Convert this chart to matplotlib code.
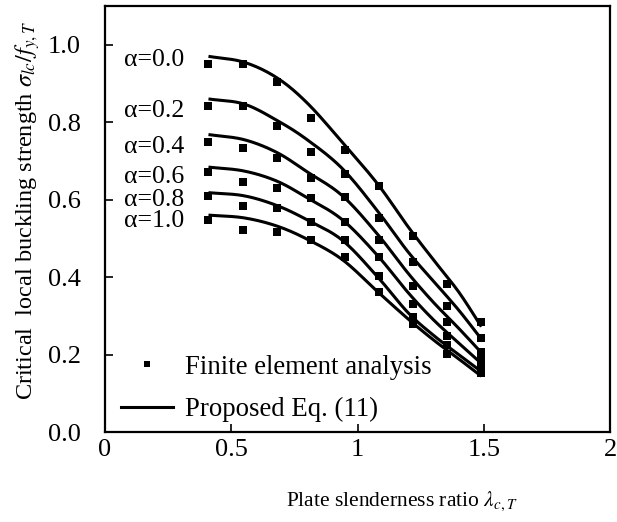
import numpy as np
import matplotlib
matplotlib.use("Agg")
import matplotlib.pyplot as plt
from matplotlib.lines import Line2D

plt.rcParams["font.family"] = ["Liberation Serif", "DejaVu Serif"]
plt.rcParams["mathtext.fontset"] = "stix"

# Finite element results: slenderness values and strength ratios per alpha
fe_lambda = [0.41, 0.545, 0.68, 0.815, 0.95, 1.085, 1.22, 1.355, 1.49]
fe_a00 = [0.950, 0.950, 0.905, 0.811, 0.727, 0.635, 0.506, 0.382, 0.284]
fe_a02 = [0.842, 0.842, 0.790, 0.722, 0.665, 0.552, 0.438, 0.326, 0.243]
fe_a04 = [0.748, 0.733, 0.708, 0.656, 0.607, 0.495, 0.378, 0.284, 0.206]
fe_a06 = [0.671, 0.645, 0.629, 0.603, 0.542, 0.451, 0.331, 0.249, 0.185]
fe_a08 = [0.609, 0.584, 0.578, 0.541, 0.495, 0.404, 0.296, 0.224, 0.168]
fe_a10 = [0.548, 0.521, 0.517, 0.495, 0.451, 0.362, 0.279, 0.202, 0.152]

# Proposed Eq. (11) evaluated at selected slenderness values
eq_lambda = [0.41, 0.55, 0.68, 0.80, 0.94, 1.08, 1.20, 1.30, 1.40, 1.49]
eq_a00 = [0.970, 0.955, 0.915, 0.850, 0.748, 0.640, 0.530, 0.445, 0.362, 0.272]
eq_a02 = [0.860, 0.847, 0.805, 0.755, 0.680, 0.570, 0.465, 0.390, 0.315, 0.240]
eq_a04 = [0.768, 0.755, 0.722, 0.672, 0.610, 0.510, 0.410, 0.335, 0.268, 0.205]
eq_a06 = [0.684, 0.674, 0.648, 0.605, 0.548, 0.455, 0.360, 0.290, 0.230, 0.177]
eq_a08 = [0.618, 0.610, 0.585, 0.548, 0.495, 0.400, 0.308, 0.250, 0.200, 0.156]
eq_a10 = [0.560, 0.553, 0.532, 0.498, 0.445, 0.362, 0.292, 0.238, 0.189, 0.144]

alpha_labels = ["α=0.0", "α=0.2", "α=0.4", "α=0.6", "α=0.8", "α=1.0"]
label_y = [0.961, 0.828, 0.736, 0.659, 0.599, 0.545]

x_ticks = [0, 0.5, 1, 1.5, 2]
x_tick_labels = ["0", "0.5", "1", "1.5", "2"]
y_ticks = [0.0, 0.2, 0.4, 0.6, 0.8, 1.0]
y_tick_labels = ["0.0", "0.2", "0.4", "0.6", "0.8", "1.0"]

fe_sets = [fe_a00, fe_a02, fe_a04, fe_a06, fe_a08, fe_a10]
eq_sets = [eq_a00, eq_a02, eq_a04, eq_a06, eq_a08, eq_a10]


def smooth_line(xs, ys, n=24):
    """Catmull-Rom smoothing through the given points (like a smoothed scatter line)."""
    p = np.column_stack([xs, ys]).astype(float)
    p = np.vstack([p[0] - (p[1] - p[0]), p, p[-1] + (p[-1] - p[-2])])
    out = []
    t = np.linspace(0, 1, n, endpoint=False)[:, None]
    for i in range(1, len(p) - 2):
        p0, p1, p2, p3 = p[i - 1], p[i], p[i + 1], p[i + 2]
        seg = 0.5 * ((2 * p1) + (-p0 + p2) * t + (2 * p0 - 5 * p1 + 4 * p2 - p3) * t ** 2
                     + (-p0 + 3 * p1 - 3 * p2 + p3) * t ** 3)
        out.append(seg)
    out.append(p[-2][None, :])
    out = np.vstack(out)
    return out[:, 0], out[:, 1]


fig = plt.figure(figsize=(6.17, 5.22), dpi=100)
ax = fig.add_axes([0.170, 0.1724, 0.819, 0.8161])

for ys in eq_sets:
    sx, sy = smooth_line(eq_lambda, ys)
    ax.plot(sx, sy, color="black", lw=2.2, solid_capstyle="butt", zorder=2)

for ys in fe_sets:
    ax.plot(fe_lambda, ys, linestyle="none", marker="s", ms=5.2, color="black",
            markeredgewidth=0, zorder=3)

for lab, yv in zip(alpha_labels, label_y):
    ax.text(0.315, yv, lab, ha="right", va="center", fontsize=18.5)

ax.set_xlim(0, 2)
ax.set_ylim(0, 1.1)
ax.set_xticks(x_ticks)
ax.set_xticklabels(x_tick_labels)
ax.set_yticks(y_ticks)
ax.set_yticklabels(y_tick_labels)
ax.tick_params(axis="both", direction="in", length=6, width=1.2, labelsize=19,
               top=False, right=False)
ax.tick_params(axis="y", pad=17.5)
ax.tick_params(axis="x", pad=5)
for s in ax.spines.values():
    s.set_linewidth(1.6)

ax.set_xlabel(r"Plate slenderness ratio $\lambda_{c,T}$", fontsize=15.5)
ax.xaxis.set_label_coords(0.588, -0.135)
ax.set_ylabel(r"Critical  local buckling strength $\sigma_{lc}/f_{y,T}$", fontsize=17.5)
ax.yaxis.set_label_coords(-0.125, 0.52)

handles = [
    Line2D([], [], linestyle="none", marker="s", ms=5, color="black", markeredgewidth=0),
    Line2D([], [], color="black", lw=2.2),
]
ax.legend(handles, ["Finite element analysis", "Proposed Eq. (11)"], loc="lower left",
          bbox_to_anchor=(0.0317, 0.023), frameon=False, fontsize=19.3, handlelength=1.94,
          handletextpad=0.45, labelspacing=0.65, borderaxespad=0.0, borderpad=0.0)

fig.savefig("out.png", dpi=100)
